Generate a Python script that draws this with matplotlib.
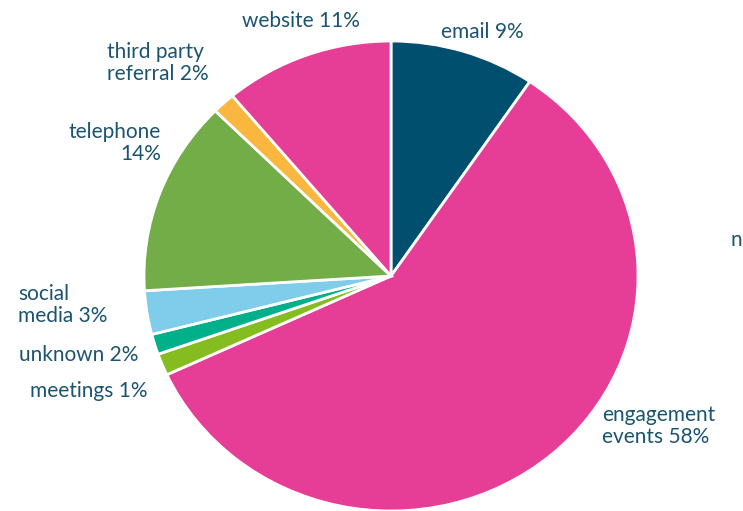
import matplotlib.pyplot as plt

# slices clockwise from 12 o'clock
labels = ['email 9%', 'engagement\nevents 58%', 'meetings 1%', 'unknown 2%',
          'social\nmedia 3%', 'telephone\n14%', 'third party\nreferral 2%', 'website 11%']
values = [9.5, 58.6, 1.5, 1.4, 3.0, 13.4, 1.5, 11.1]
colors = ['#004F6E', '#E63E96', '#85BC1F', '#00B08A', '#80CCEB', '#73AD47', '#F9B73F', '#E63E96']

# label anchors in pixels (x, y, ha)
label_pos = [(441, 32, 'left'), (602, 426, 'left'), (147, 391, 'right'), (138, 355, 'right'),
             (18, 305, 'left'), (161, 143, 'right'), (107, 63, 'left'), (360, 21, 'right')]

W, H = 743, 511
cx, cy = 391, 276
RX, RY = 247, 235   # the reference pie is slightly squashed
txt_color = '#1B5470'

def px(x, y):
    return (x - cx) / RX, (cy - y) / RY

fig = plt.figure(figsize=(W / 100, H / 100), dpi=100)
ax = fig.add_axes([0, 0, 1, 1])
ax.pie(values, colors=colors, startangle=90, counterclock=False, radius=1,
       wedgeprops=dict(edgecolor='white', linewidth=2))
ax.set_xlim(px(0, 0)[0], px(W, 0)[0])
ax.set_ylim(px(0, H)[1], px(0, 0)[1])
ax.set_aspect('auto')
ax.axis('off')

for lab, (x, y, ha) in zip(labels, label_pos):
    ax.text(*px(x, y), lab, ha=ha, va='center', fontsize=15, color=txt_color,
            family='Lato', linespacing=1.1)

# cut-off label at the right edge
ax.text(*px(731, 240), 'n', ha='left', va='center', fontsize=15, color=txt_color, family='Lato')

fig.savefig('out.png', dpi=100)
